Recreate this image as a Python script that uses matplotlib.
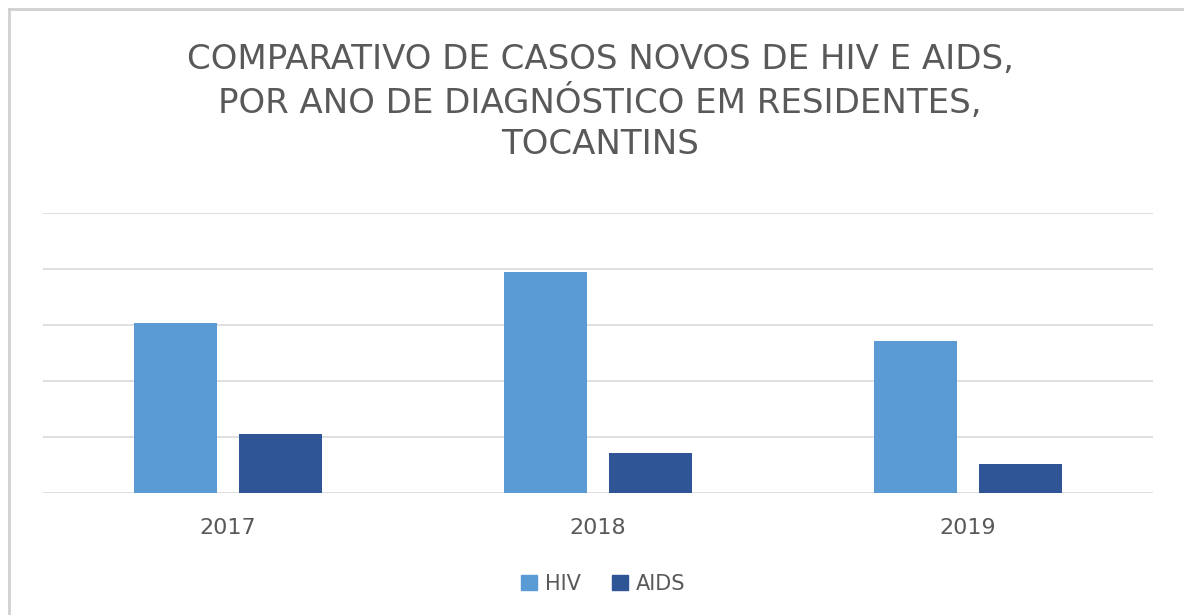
import matplotlib.pyplot as plt
import numpy as np
from matplotlib.lines import Line2D
from matplotlib.patches import Patch

# data (gridline step = 50)
anos = ['2017', '2018', '2019']
hiv = [152, 197, 136]
aids = [53, 36, 26]
titulo = 'COMPARATIVO DE CASOS NOVOS DE HIV E AIDS,\nPOR ANO DE DIAGNÓSTICO EM RESIDENTES,\nTOCANTINS'

cor_hiv = '#5B9BD5'
cor_aids = '#2F5597'
cinza = '#595959'
plt.rcParams['font.family'] = ['DejaVu Sans']

fig = plt.figure(figsize=(11.84, 6.15), dpi=100)
ax = fig.add_axes([43 / 1184, 1 - 493 / 615, 1110 / 1184, 280 / 615])

x = np.arange(len(anos))
w = 0.222
ax.bar(x - 0.142, hiv, w, color=cor_hiv, label='HIV', zorder=3)
ax.bar(x + 0.142, aids, w, color=cor_aids, label='AIDS', zorder=3)

ax.set_xlim(-0.5, 2.5)
ax.set_ylim(0, 250)
ax.set_yticks(np.arange(0, 251, 50))
ax.yaxis.grid(True, color='#D9D9D9', linewidth=1.2, zorder=0)
ax.tick_params(axis='y', left=False, labelleft=False)
ax.set_xticks(x, anos)
ax.tick_params(axis='x', length=0, pad=18, labelsize=16, labelcolor=cinza)
for s in ax.spines.values():
    s.set_visible(False)

fig.text(0.507, 1 - 102 / 615, titulo, ha='center', va='center', fontsize=24.5,
         color=cinza, linespacing=1.3)

handles = [Patch(color=cor_hiv, label='HIV'), Patch(color=cor_aids, label='AIDS')]
fig.legend(handles=handles, loc='center', bbox_to_anchor=(0.5097, 1 - 584 / 615), ncol=2,
           frameon=False, fontsize=15, labelcolor=cinza, handlelength=0.75, handleheight=0.7,
           handletextpad=0.4, columnspacing=1.5)

# outer chart frame (left and top edges visible)
fig.add_artist(Line2D([9 / 1184, 9 / 1184], [0, 1 - 9 / 615], color='#D0D0D0', lw=2,
                      transform=fig.transFigure))
fig.add_artist(Line2D([9 / 1184, 1], [1 - 9 / 615, 1 - 9 / 615], color='#D0D0D0', lw=2,
                      transform=fig.transFigure))

fig.savefig('out.png', dpi=100)
